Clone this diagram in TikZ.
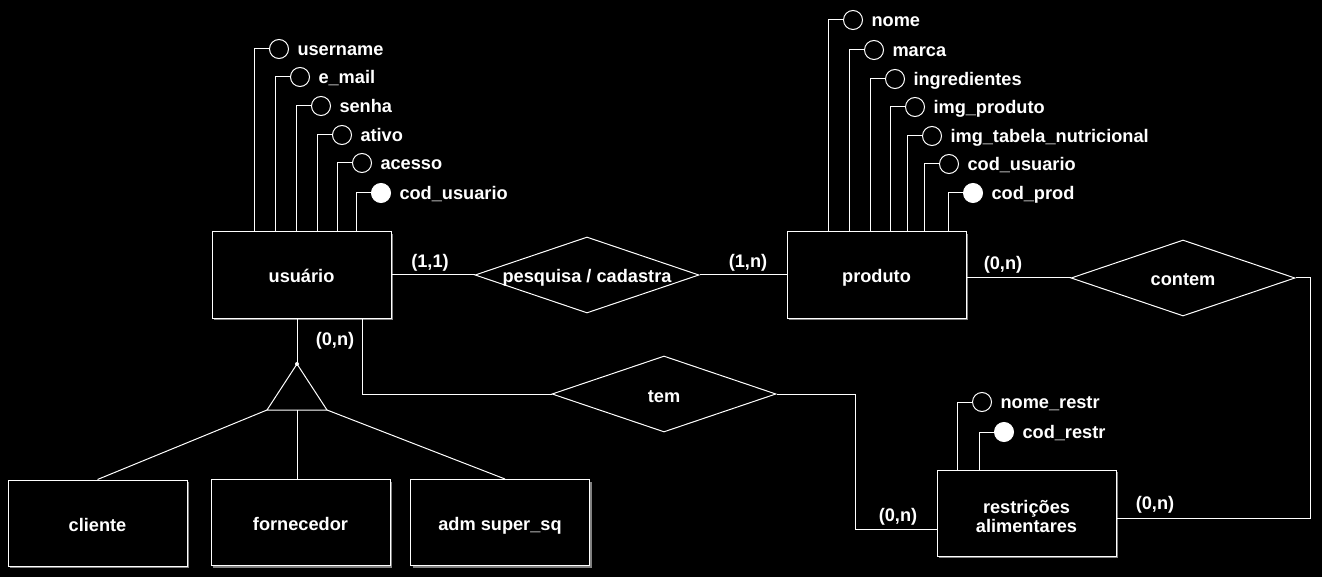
\documentclass[tikz,border=0pt]{standalone}
\usepackage{fontspec}
\setmainfont{Liberation Sans}
\usetikzlibrary{shapes.geometric,shadows}

\begin{document}
\begin{tikzpicture}[x=1pt, y=-1pt, line width=1pt, white,
    font=\fontsize{18.2}{19}\selectfont\bfseries,
    ent/.style={draw, fill=black, minimum width=179pt, minimum height=86pt, inner sep=0pt, align=center,
        text height=16pt, text depth=0pt,
        drop shadow={shadow xshift=2pt, shadow yshift=-2pt, fill=gray, opacity=1}},
    rel/.style={diamond, draw, fill=black, minimum width=224pt, minimum height=76pt, inner sep=0pt},
    rlbl/.style={inner sep=0pt, text height=16pt, text depth=0pt},
    lbl/.style={inner sep=0pt, text height=13pt, text depth=0pt},
    attr/.style={circle, draw, fill=black, minimum size=19pt, inner sep=0pt, label={[lbl]right:#1}},
    key/.style={attr=#1, fill=white},
    card/.style={inner sep=1pt},
    label distance=8pt]

    \path[use as bounding box, fill=black] (0,0) rectangle (1322,577);

    % entidades
    \node[ent] (usuario) at (301.5,275) {usuário};
    \node[ent] (produto) at (876.5,275) {produto};
    \node[ent, text height=38pt, text depth=0pt] (restr) at (1026.5,513) {restrições\\alimentares};
    \node[ent] (cliente) at (97.5,523) {cliente};
    \node[ent] (fornecedor) at (300.5,522.5) {fornecedor};
    \node[ent] (adm) at (500,522.5) {adm super\_sq};

    % relacionamentos
    \node[rel, label={[rlbl]center:pesquisa / cadastra}] (pc) at (587,275) {};
    \node[rel, label={[rlbl]center:contem}] (contem) at (1183,278) {};
    \node[rel, label={[rlbl]center:tem}] (tem) at (664,394) {};

    % atributos usuario
    \foreach \t/\px/\py [count=\i] in {username/279/49, e\_mail/300/77, senha/321/106, ativo/342/135, acesso/362/163} {
        \node[attr=\t] (ua\i) at (\px,\py) {};
        \draw (ua\i.west) -| ([xshift=-15pt]ua\i.west |- usuario.north);
    }
    \node[key=cod\_usuario] (ukey) at (381,193) {};
    \draw (ukey.west) -| ([xshift=-15pt]ukey.west |- usuario.north);

    % atributos produto
    \foreach \t/\px/\py [count=\i] in {nome/853/20, marca/874/50, ingredientes/895/79, img\_produto/915/107,
        img\_tabela\_nutricional/932/136, cod\_usuario/949/164} {
        \node[attr=\t] (pa\i) at (\px,\py) {};
        \draw (pa\i.west) -| ([xshift=-15pt]pa\i.west |- produto.north);
    }
    \node[key=cod\_prod] (pkey) at (973,193) {};
    \draw (pkey.west) -| ([xshift=-15pt]pkey.west |- produto.north);

    % atributos restricoes
    \node[attr=nome\_restr] (ra1) at (982,402) {};
    \draw (ra1.west) -| ([xshift=-15pt]ra1.west |- restr.north);
    \node[key=cod\_restr] (rkey) at (1004,432) {};
    \draw (rkey.west) -| ([xshift=-15pt]rkey.west |- restr.north);

    % ligacoes
    \draw (usuario) -- (pc) -- (produto);
    \draw (contem.west) -- (contem.west -| produto.east);

    \coordinate (cr) at (1310,518);
    \draw (contem.east) -| (cr) -- (cr -| restr.east);

    \coordinate (ut) at (362,394);
    \draw (usuario.south -| ut) -- (ut) -- (tem.west);
    \coordinate (tr) at (855,529);
    \draw (tem.east) -| (tr) -- (tr -| restr.west);

    % especializacao
    \coordinate (isat) at (297,364);
    \coordinate (isal) at (267,410);
    \coordinate (isar) at (327,410);
    \coordinate (isam) at (297,410);
    \draw (isat) -- (isal) -- (isar) -- cycle;
    \fill (isat) circle (2pt);
    \draw (usuario.south -| isat) -- (isat);
    \draw (isal) -- (cliente.north);
    \draw (isam) -- (fornecedor.north -| isam);
    \draw (isar) -- ([xshift=5pt]adm.north);

    % cardinalidades
    \node[card] (c1) at (430,263) {(1,1)};
    \node[card] (c2) at (748,263) {(1,n)};
    \node[card] (c3) at (1003,265) {(0,n)};
    \node[card] (c4) at (335,341) {(0,n)};
    \node[card] (c5) at (898,517) {(0,n)};
    \node[card] (c6) at (1155,505) {(0,n)};
\end{tikzpicture}
\end{document}
